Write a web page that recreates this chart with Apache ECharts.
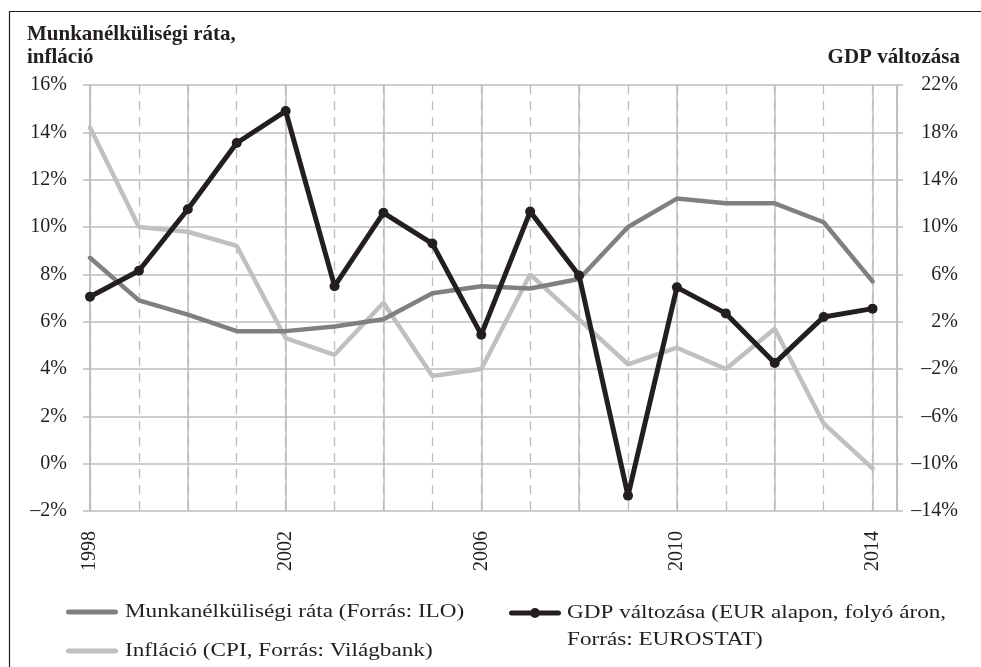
<!DOCTYPE html>
<html>
<head>
<meta charset="utf-8">
<script src="https://cdn.jsdelivr.net/npm/echarts@6/dist/echarts.min.js"></script>
<style>html,body{margin:0;padding:0;background:#fff;}#c{width:981px;height:667px;}</style>
</head>
<body>
<div id="c"></div>
<script>
const years = [1998,1999,2000,2001,2002,2003,2004,2005,2006,2007,2008,2009,2010,2011,2012,2013,2014];
const unemployment = [8.7,6.9,6.3,5.6,5.6,5.8,6.1,7.2,7.5,7.4,7.8,10.0,11.2,11.0,11.0,10.2,7.7];
const inflation = [14.2,10.0,9.8,9.2,5.3,4.6,6.8,3.7,4.0,8.0,6.1,4.2,4.9,4.0,5.7,1.7,-0.2];
const gdp = [4.1,6.3,11.5,17.1,19.8,5.0,11.2,8.6,0.9,11.3,5.9,-12.7,4.9,2.7,-1.5,2.4,3.1];
const xLabelYears = [1998,2002,2006,2010,2014];
const leftTitle = 'Munkanélküliségi ráta,\ninfláció';
const rightTitle = 'GDP változása';
const nameUnemp = 'Munkanélküliségi ráta (Forrás: ILO)';
const nameInfl = 'Infláció (CPI, Forrás: Világbank)';
const nameGdp = 'GDP változása (EUR alapon, folyó áron, Forrás: EUROSTAT)';
const gdpLegendLines = ['GDP változása (EUR alapon, folyó áron,', 'Forrás: EUROSTAT)'];

const INK = '#231f20';
const GRID = '#bcbdc0';
const C_UNEMP = '#808080';
const C_INFL = '#bfc0c2';
const SERIF = '"Liberation Serif", "Times New Roman", serif';
const pct = v => (v < 0 ? '\u2013' + Math.abs(v) : String(v)) + '%';
const pair = arr => years.map((y, i) => [y, arr[i]]);

const BAR_ICON = 'path://M2.5,0 L49.5,0 A2.5,2.5 0 0,1 49.5,5 L2.5,5 A2.5,2.5 0 0,1 2.5,0 Z';
const DOT_ICON = 'path://M2.5,2.5 L49.5,2.5 A2.5,2.5 0 0,1 49.5,7.5 L2.5,7.5 A2.5,2.5 0 0,1 2.5,2.5 Z M26,0 A5,5 0 1,1 26,10 A5,5 0 1,1 26,0 Z';

const LEG_FONT = '19px "Liberation Serif", serif';
const LEG_SX = 1.22;
function legText(text, x, y) {
  return {type: 'text', x: x, y: y, scaleX: LEG_SX, silent: true, z: 10,
    style: {text: text, font: LEG_FONT, fill: INK, verticalAlign: 'middle', align: 'left'}};
}

const chart = echarts.init(document.getElementById('c'), null, {renderer: 'canvas'});
chart.setOption({
  animation: false,
  backgroundColor: '#fff',
  textStyle: {fontFamily: SERIF, color: INK},
  title: [
    {text: leftTitle, left: 27, top: 23, padding: 0, textStyle: {fontFamily: SERIF, fontSize: 21, fontWeight: 'bold', color: INK, lineHeight: 23}},
    {text: rightTitle, right: 21, top: 46, padding: 0, textStyle: {fontFamily: SERIF, fontSize: 21, fontWeight: 'bold', color: INK, lineHeight: 23}}
  ],
  grid: {left: 90, right: 84, top: 85, bottom: 156, containLabel: false},
  xAxis: [
    {type: 'value', min: 1998, max: 2014.5, interval: 1, position: 'bottom',
     axisLine: {show: false}, axisTick: {show: false}, axisLabel: {show: false},
     splitLine: {show: true, lineStyle: {color: GRID, width: 1.3, type: [9, 7]}}},
    {type: 'value', min: 1998, max: 2014.5, interval: 2, position: 'bottom',
     axisLine: {show: false}, axisTick: {show: false},
     axisLabel: {show: true, rotate: 90, margin: 20, fontSize: 20, fontFamily: SERIF, color: INK,
       formatter: v => xLabelYears.indexOf(v) >= 0 ? String(v) : ''},
     splitLine: {show: true, lineStyle: {color: GRID, width: 1.5}}}
  ],
  yAxis: [
    {type: 'value', min: -2, max: 16, interval: 2, position: 'left',
     axisLine: {show: true, lineStyle: {color: GRID, width: 1.5}},
     axisTick: {show: true, length: 7, lineStyle: {color: GRID, width: 1.5}},
     axisLabel: {margin: 23, fontSize: 20, fontFamily: SERIF, color: INK, formatter: pct},
     splitLine: {show: true, lineStyle: {color: GRID, width: 1.5}}},
    {type: 'value', min: -14, max: 22, interval: 4, position: 'right',
     axisLine: {show: true, lineStyle: {color: GRID, width: 1.5}},
     axisTick: {show: true, length: 6, lineStyle: {color: GRID, width: 1.5}},
     axisLabel: {margin: 61, align: 'right', fontSize: 20, fontFamily: SERIF, color: INK, formatter: pct},
     splitLine: {show: false}}
  ],
  legend: [
    {data: [{name: nameUnemp, icon: BAR_ICON}], left: 66, top: 609.5, padding: 0, itemWidth: 52, itemHeight: 5,
     formatter: () => '', selectedMode: false},
    {data: [{name: nameInfl, icon: BAR_ICON}], left: 66, top: 648.5, padding: 0, itemWidth: 52, itemHeight: 5,
     formatter: () => '', selectedMode: false},
    {data: [{name: nameGdp, icon: DOT_ICON}], left: 509, top: 608, padding: 0, itemWidth: 52, itemHeight: 10,
     formatter: () => '', selectedMode: false}
  ],
  series: [
    {name: nameUnemp, type: 'line', xAxisIndex: 0, yAxisIndex: 0, data: pair(unemployment),
     symbol: 'none', color: C_UNEMP, lineStyle: {color: C_UNEMP, width: 4.5, cap: 'round'}, z: 3},
    {name: nameInfl, type: 'line', xAxisIndex: 0, yAxisIndex: 0, data: pair(inflation),
     symbol: 'none', color: C_INFL, lineStyle: {color: C_INFL, width: 4.5, cap: 'round'}, z: 2},
    {name: nameGdp, type: 'line', xAxisIndex: 0, yAxisIndex: 1, data: pair(gdp),
     symbol: 'circle', symbolSize: 10, showSymbol: true, color: INK,
     itemStyle: {color: INK}, lineStyle: {color: INK, width: 5, cap: 'round', join: 'round'}, z: 4}
  ],
  graphic: [
    {type: 'rect', left: 7, top: 9, z: -1, silent: true,
     shape: {width: 1000, height: 700}, style: {fill: 'none', stroke: INK, lineWidth: 1.2}},
    legText(nameUnemp, 125, 612),
    legText(nameInfl, 125, 651),
    legText(gdpLegendLines[0], 567, 613),
    legText(gdpLegendLines[1], 567, 640)
  ]
});
</script>
</body>
</html>
